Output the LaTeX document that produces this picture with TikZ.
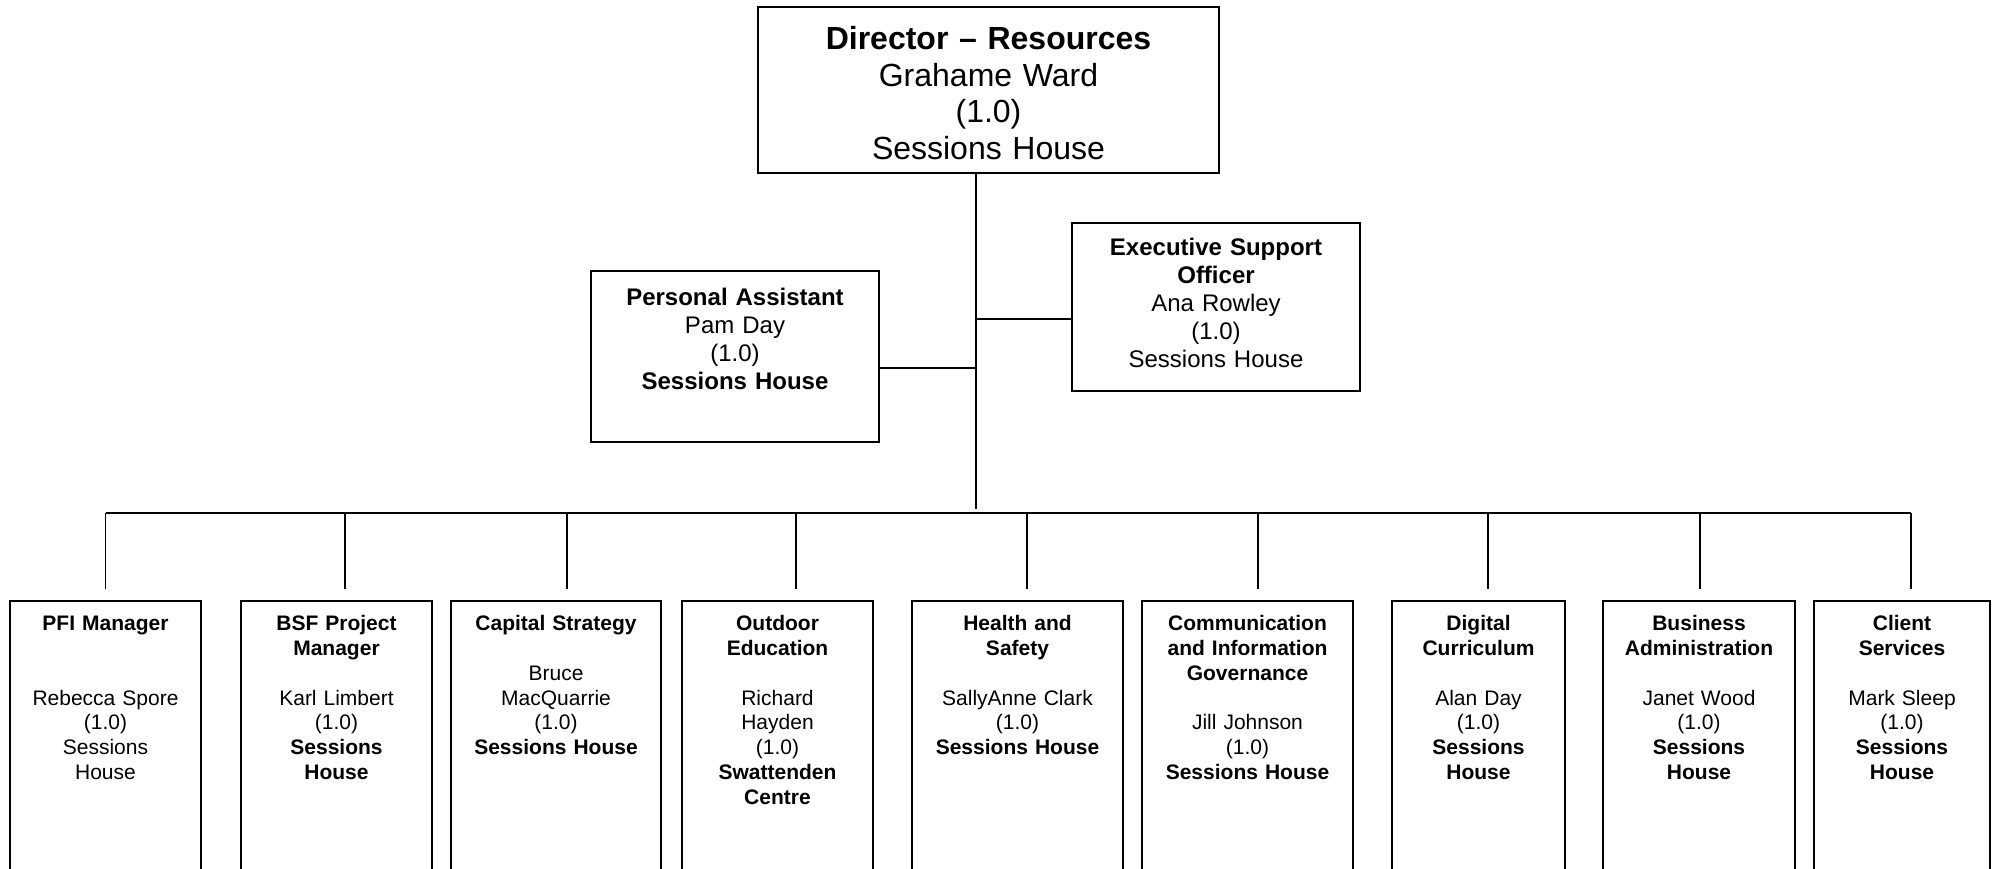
\documentclass[tikz,border=0pt]{standalone}
\usepackage{fontspec}
\setmainfont{Liberation Sans}

\begin{document}
\begin{tikzpicture}[x=1pt,y=-1pt,line width=1.5pt,
  post/.style={draw,anchor=north,align=center,inner sep=0pt,text width=#1},
  unit/.style={draw,anchor=north,align=center,inner xsep=4pt,inner ysep=0pt,
    text width=#1,text height=30pt,text depth=300pt,
    font=\fontsize{21}{24.8}\selectfont}]

\useasboundingbox (0,0) rectangle (1998,868);
\clip (0,0) rectangle (1998,868);

% top of the chart
\node[post=461pt,text height=42.5pt,text depth=123.5pt,
  font=\fontsize{32}{36.8}\selectfont] (director) at (988.5,6)
  {\textbf{Director – Resources}\\Grahame Ward\\(1.0)\\Sessions House};

\node[post=288pt,text height=34.6pt,text depth=136.4pt,
  font=\fontsize{24}{28}\selectfont] (pa) at (735,270)
  {\textbf{Personal Assistant}\\Pam Day\\(1.0)\\\textbf{Sessions House}};

\node[post=288pt,text height=32.6pt,text depth=135.4pt,
  font=\fontsize{24}{28}\selectfont] (eso) at (1216,222)
  {\textbf{Executive Support}\\\textbf{Officer}\\Ana Rowley\\(1.0)\\Sessions House};

\coordinate (hub) at (976,513);
\coordinate (paj) at (976,368);
\coordinate (esoj) at (976,319);

\draw[shorten >=4pt] (director.south -| hub) -- (hub);
\draw (paj) -- (paj -| pa.east);
\draw (esoj) -- (esoj -| eso.west);

% the nine units
\node[unit=183pt] (pfi) at (105.5,600)
  {\textbf{PFI Manager}\\[49.6pt]Rebecca Spore\\(1.0)\\Sessions\\House};
\node[unit=183pt] (bsf) at (336.5,600)
  {\textbf{BSF Project}\\\textbf{Manager}\\[24.8pt]Karl Limbert\\(1.0)\\\textbf{Sessions}\\\textbf{House}};
\node[unit=202pt] (capital) at (556,600)
  {\textbf{Capital Strategy}\\[24.8pt]Bruce\\MacQuarrie\\(1.0)\\\textbf{Sessions House}};
\node[unit=183pt] (outdoor) at (777.5,600)
  {\textbf{Outdoor}\\\textbf{Education}\\[24.8pt]Richard\\Hayden\\(1.0)\\\textbf{Swattenden}\\\textbf{Centre}};
\node[unit=203pt] (health) at (1017.5,600)
  {\textbf{Health and}\\\textbf{Safety}\\[24.8pt]SallyAnne Clark\\(1.0)\\\textbf{Sessions House}};
\node[unit=203pt] (comm) at (1247.5,600)
  {\textbf{Communication}\\\textbf{and Information}\\\textbf{Governance}\\[24.8pt]Jill Johnson\\(1.0)\\\textbf{Sessions House}};
\node[unit=165pt] (digital) at (1478.5,600)
  {\textbf{Digital}\\\textbf{Curriculum}\\[24.8pt]Alan Day\\(1.0)\\\textbf{Sessions}\\\textbf{House}};
\node[unit=184pt] (business) at (1699,600)
  {\textbf{Business}\\\textbf{Administration}\\[24.8pt]Janet Wood\\(1.0)\\\textbf{Sessions}\\\textbf{House}};
\node[unit=168pt] (client) at (1902,600)
  {\textbf{Client}\\\textbf{Services}\\[24.8pt]Mark Sleep\\(1.0)\\\textbf{Sessions}\\\textbf{House}};

% drops and bus
\foreach \n/\s in {pfi/0,bsf/8.5,capital/11,outdoor/18.5,health/9.5,
                   comm/10.5,digital/9.5,business/1,client/9}
  \draw ([xshift=\s pt,yshift=11pt]\n.north) -- ++(0,-76) coordinate (top-\n);
\draw (top-pfi) -- (top-client);

\end{tikzpicture}
\end{document}
